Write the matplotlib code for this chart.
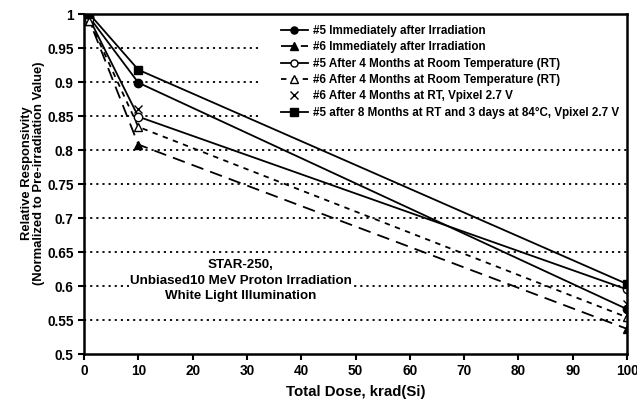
import matplotlib
matplotlib.use('Agg')
import matplotlib.pyplot as plt
from matplotlib.patches import Rectangle

plt.rcParams['font.family'] = ['Liberation Sans', 'DejaVu Sans']
plt.rcParams['font.weight'] = 'bold'

# Data
dose = [0, 1, 10, 100]
dose_x = [10, 100]
s5_imm = [1.0, 0.995, 0.899, 0.566]
s6_imm = [1.0, 0.990, 0.808, 0.537]
s5_4mo = [1.0, 0.993, 0.849, 0.595]
s6_4mo = [1.0, 0.990, 0.834, 0.554]
s6_4mo_vpix = [0.860, 0.573]
s5_8mo = [1.0, 1.0, 0.918, 0.603]

labels = [
    '#5 Immediately after Irradiation',
    '#6 Immediately after Irradiation',
    '#5 After 4 Months at Room Temperature (RT)',
    '#6 After 4 Months at Room Temperature (RT)',
    '#6 After 4 Months at RT, Vpixel 2.7 V',
    '#5 after 8 Months at RT and 3 days at 84°C, Vpixel 2.7 V',
]

fig = plt.figure(figsize=(6.37, 4.07), dpi=100)
ax = fig.add_axes([0.1319, 0.1302, 0.8524, 0.8354])

ms = 6
lw = 1.3
ax.plot(dose, s5_imm, color='black', lw=lw, marker='o', ms=ms, label=labels[0], zorder=5)
ax.plot(dose, s6_imm, color='black', lw=lw, ls=(0, (7, 4)), marker='^', ms=ms, label=labels[1], zorder=5)
ax.plot(dose, s5_4mo, color='black', lw=lw, marker='o', ms=ms, mfc='white', label=labels[2], zorder=5)
ax.plot(dose, s6_4mo, color='black', lw=lw, ls=(0, (3, 3)), marker='^', ms=ms, mfc='white', label=labels[3], zorder=5)
ax.plot(dose_x, s6_4mo_vpix, color='black', lw=0, marker='x', ms=ms, mew=1.0, label=labels[4], zorder=6)
ax.plot(dose, s5_8mo, color='black', lw=lw, marker='s', ms=ms, label=labels[5], zorder=5)

ax.set_xlim(0, 100)
ax.set_ylim(0.5, 1.0)
ax.set_xticks(range(0, 101, 10))
ax.set_yticks([0.5, 0.55, 0.6, 0.65, 0.7, 0.75, 0.8, 0.85, 0.9, 0.95, 1.0])
ax.set_yticklabels(['0.5', '0.55', '0.6', '0.65', '0.7', '0.75', '0.8', '0.85', '0.9', '0.95', '1'])
ax.tick_params(labelsize=9.8, width=1.5, length=4, direction='out')
for t in ax.get_xticklabels() + ax.get_yticklabels():
    t.set_fontweight('bold')

for y in [0.55, 0.6, 0.65, 0.7, 0.75, 0.8, 0.85, 0.9, 0.95]:
    ax.axhline(y, color='black', lw=1.3, ls=(0, (1.2, 2.2)), zorder=1)

for sp in ax.spines.values():
    sp.set_linewidth(1.8)
    sp.set_zorder(8)

ax.set_xlabel('Total Dose, krad(Si)', fontsize=10.8, fontweight='bold', labelpad=5)
ax.set_ylabel('Relative Responsivity\n(Normalized to Pre-irradiation Value)', fontsize=9.4,
              fontweight='bold', linespacing=1.1)
ax.yaxis.set_label_coords(-0.071, 0.532)

# white area behind the legend
ax.add_patch(Rectangle((0.328, 0.688), 0.672, 0.312, transform=ax.transAxes,
                       facecolor='white', edgecolor='none', zorder=2))

leg = ax.legend(loc='upper left', bbox_to_anchor=(0.343, 0.998), frameon=False,
                prop={'family': 'Liberation Sans', 'weight': 'bold', 'size': 8.4},
                handlelength=2.3, handletextpad=0.43, labelspacing=0.37, borderpad=0.4,
                markerscale=0.85)
leg.set_zorder(10)

ax.text(28.9, 0.6078, 'STAR-250,\nUnbiased10 MeV Proton Irradiation\nWhite Light Illumination',
        ha='center', va='center', fontsize=9.6, fontweight='bold', linespacing=1.4,
        bbox=dict(facecolor='white', edgecolor='none', pad=1), zorder=10)

fig.savefig('out.png', dpi=100)
